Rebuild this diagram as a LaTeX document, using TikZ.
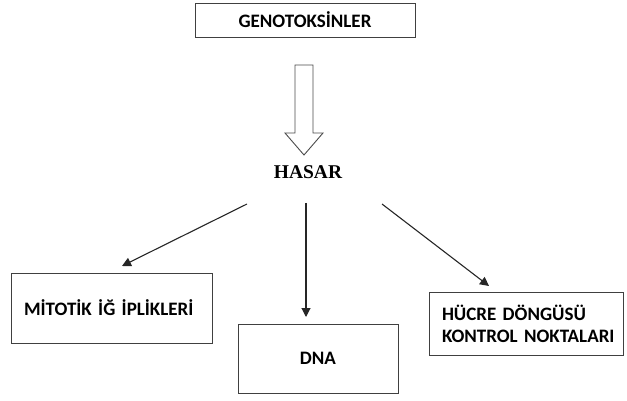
\documentclass[tikz,border=0pt]{standalone}
\usepackage{fontspec}
\setsansfont{Carlito}[WordSpace=0.6]
\newfontfamily\hasarfont{Liberation Serif}
\usepackage{tikz}
\usetikzlibrary{arrows.meta}
\tikzset{%
  x=1pt, y=-1pt,
  box/.style={            % plain boxes
    draw=black!75,
    line width=0.9pt,
    font=\sffamily\bfseries\fontsize{19}{22}\selectfont,
    inner sep=0pt},
  leftbox/.style={
    box,
    align=left,
    inner xsep=13pt},
  arr/.style={            % thin arrows
    draw=black!85,
    line width=1.1pt,
    -{Triangle[length=9pt,width=9pt]}},
  hollow/.style={
    draw=black!70,
    line width=0.9pt,
    fill=white} %
}

\begin{document}
\begin{tikzpicture}
  \useasboundingbox (0,0) rectangle (627,401);

  \node[box, minimum width=220pt, minimum height=34pt] (gen) at (305,20) {GENOTOKSİNLER};
  \node[font=\hasarfont\bfseries\fontsize{19.5}{22}\selectfont] (hasar) at (308,172) {HASAR};

  \node[leftbox, minimum width=201pt, minimum height=70pt, text width=175pt] (mit) at (111.5,308)
       {\raisebox{-4pt}{MİTOTİK İĞ İPLİKLERİ}};
  \node[box, minimum width=160pt, minimum height=69pt] (dna) at (318,358.5) {\raisebox{-6pt}{DNA}};
  \node[leftbox, minimum width=194pt, minimum height=63pt, text width=168pt] (hcr) at (526,323.5)
       {\mbox{HÜCRE DÖNGÜSÜ}\\\mbox{KONTROL NOKTALARI}};

  % hollow arrow
  \draw[hollow] (295,65) -- (313,65) -- (313,133) -- (323,133) -- (304,155)
        -- (285,133) -- (295,133) -- cycle;

  \coordinate (l0) at (247,204);
  \coordinate (l1) at (122,266);
  \coordinate (m0) at (306,203);
  \coordinate (m1) at (306,317);
  \coordinate (r0) at (382,204);
  \coordinate (r1) at (489,286);

  \draw[arr] (l0) -- (l1);
  \draw[arr] (m0) -- (m1);
  \draw[arr] (r0) -- (r1);

\end{tikzpicture}
\end{document}
